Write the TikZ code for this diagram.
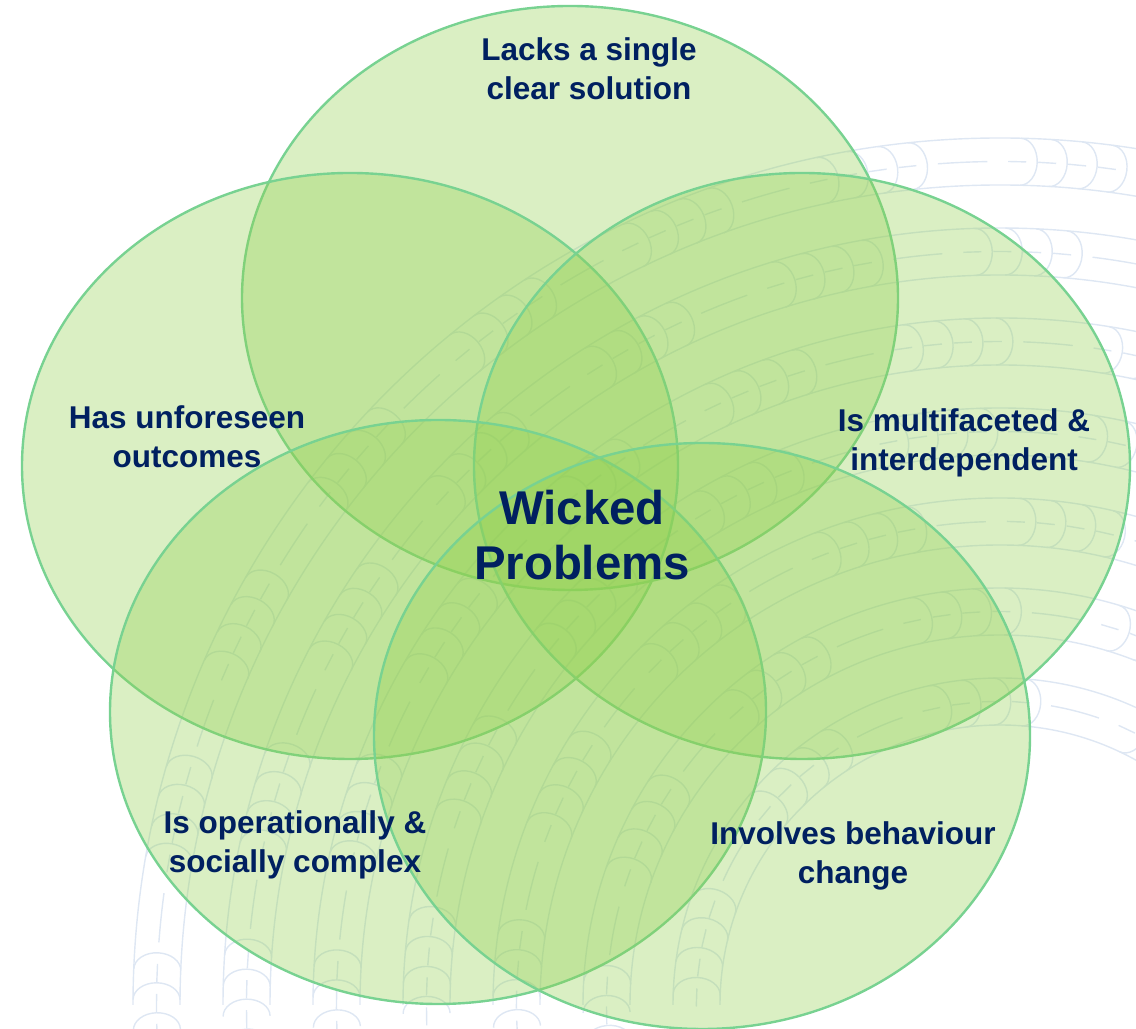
\documentclass[tikz,border=0pt]{standalone}
\usepackage{fontspec}
\setmainfont{Liberation Sans}
\usepackage{xcolor}
\usepackage{tikz}
\definecolor{wpnavy}{RGB}{0,32,96}
\definecolor{wpgreen}{RGB}{146,208,80}
\definecolor{wpedge}{RGB}{120,210,145}
\definecolor{wpmotif}{RGB}{222,231,243}
\tikzstyle{petal} = [fill=wpgreen, fill opacity=0.34, draw=wpedge, line width=1.7pt]
\tikzstyle{trait} = [text=wpnavy, font=\bfseries\fontsize{22.4}{27.4}\selectfont, align=center, inner sep=0pt]
\tikzstyle{core}  = [text=wpnavy, font=\bfseries\fontsize{33.7}{39.7}\selectfont, align=center, inner sep=0pt]
\tikzstyle{motif} = [draw=wpmotif, line width=1pt]

\begin{document}
\begin{tikzpicture}[x=0.025cm, y=0.025cm]
    \useasboundingbox (0,0) rectangle (1136,1029);
    \coordinate (hub) at (1000,24);

    % faint banded motif behind the petals
    \begin{scope}
      \clip (0,0) rectangle (1136,1029);
      \foreach \R/\ph in {867/1, 777/9, 687/4, 597/12, 507/6, 417/2, 327/10} {
        \pgfmathsetmacro\Ri{\R-47}
        \pgfmathsetmacro\Rm{\R-23.5}
        \pgfmathsetmacro\cs{200/\Rm*57.2958}
        \pgfmathsetmacro\ds{30/\Rm*57.2958}
        \pgfmathtruncatemacro\nc{180/\cs}
        \draw[motif] (hub) ++(0:\R) arc[start angle=0, end angle=180, radius=\R];
        \draw[motif] (hub) ++(0:\Ri) arc[start angle=0, end angle=180, radius=\Ri];
        \foreach \c in {0,...,\nc} {
          \pgfmathsetmacro\tz{\ph+\c*\cs}
          \foreach \j in {0,...,3} {
            \pgfmathsetmacro\t{\tz+\j*\ds}
            \begin{scope}[shift={(hub)}, rotate=\t]
              \draw[motif] (\R,0) arc[start angle=0, end angle=-180, x radius=23.5, y radius=17];
              \draw[motif] (\Rm,12) -- (\Rm,-6);
            \end{scope}
          }
          \pgfmathsetmacro\ga{\tz+3*\ds+0.3*(\cs-3*\ds)}
          \pgfmathsetmacro\gb{\tz+\cs-0.25*(\cs-3*\ds)}
          \draw[motif] (hub) ++(\ga:\Rm) arc[start angle=\ga, end angle=\gb, radius=\Rm];
        }
      }
    \end{scope}

    % petals
    \filldraw[petal] (570,731) ellipse [x radius=328, y radius=292];
    \filldraw[petal] (350,563) ellipse [x radius=328, y radius=293];
    \filldraw[petal] (802,563) ellipse [x radius=328, y radius=293];
    \filldraw[petal] (438,317) ellipse [x radius=328, y radius=292];
    \filldraw[petal] (702,293) ellipse [x radius=328, y radius=293];

    \node[trait] (lacks)        at (589,960) {Lacks a single\\clear solution};
    \node[trait] (unforeseen)   at (187,592) {Has unforeseen\\outcomes};
    \node[trait] (multifaceted) at (964,586) {Is multifaceted \&\\interdependent};
    \node[core]  (wicked)       at (582,494) {Wicked\\Problems};
    \node[trait] (operational)  at (295,184) {Is operationally \&\\socially complex};
    \node[trait] (behaviour)    at (853,173) {Involves behaviour\\change};

\end{tikzpicture}
\end{document}
